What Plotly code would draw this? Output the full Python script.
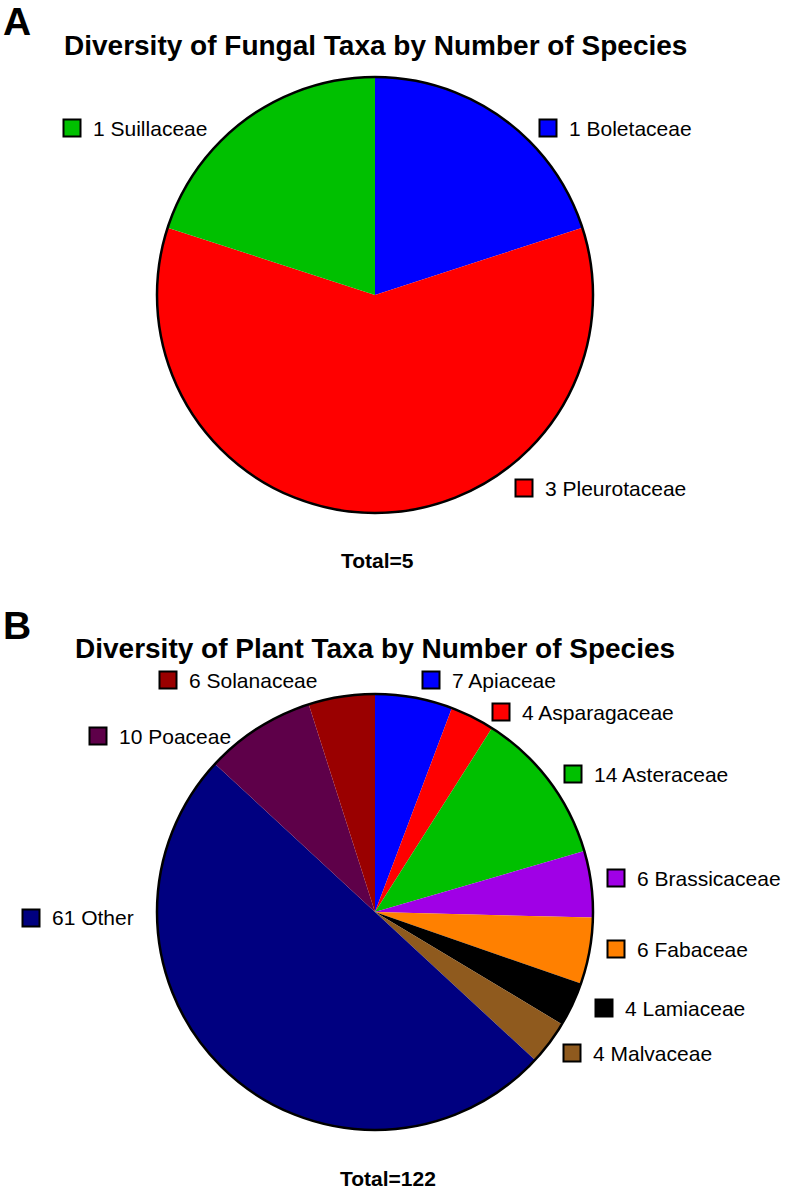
import plotly.graph_objects as go

W, H = 787, 1189

# ---- Data ----
fungi_labels = ["Boletaceae", "Pleurotaceae", "Suillaceae"]
fungi_values = [1, 3, 1]
fungi_colors = ["#0000ff", "#ff0000", "#00c000"]

plant_labels = ["Apiaceae", "Asparagaceae", "Asteraceae", "Brassicaceae", "Fabaceae",
                "Lamiaceae", "Malvaceae", "Other", "Poaceae", "Solanaceae"]
plant_values = [7, 4, 14, 6, 6, 4, 4, 61, 10, 6]
plant_colors = ["#0000ff", "#ff0000", "#00c000", "#a000e6", "#ff8000",
                "#000000", "#8f5a1e", "#000080", "#5e0049", "#9a0000"]

# label anchor positions (pixels: square centre x, y)
fungi_label_pos = [(548, 128), (524, 488), (72, 128)]
plant_label_pos = [(431, 680), (501, 712), (573, 774), (616, 878), (616, 949),
                   (604, 1008), (572, 1053), (31, 918), (98, 736), (168, 680)]

FONT = "Liberation Sans, Arial, sans-serif"


def px(x):
    return x / W


def py(y):
    return 1 - y / H


# pie geometry (pixels)
pies = [
    dict(cx=375, cy=295, r=218),
    dict(cx=375, cy=912, r=218),
]

fig = go.Figure()
for p, labels, values, colors in [(pies[0], fungi_labels, fungi_values, fungi_colors),
                                  (pies[1], plant_labels, plant_values, plant_colors)]:
    fig.add_trace(go.Pie(
        labels=labels, values=values, sort=False, direction="clockwise", rotation=0,
        marker=dict(colors=colors, line=dict(width=0)),
        textinfo="none", showlegend=False,
        domain=dict(x=[px(p["cx"] - p["r"]), px(p["cx"] + p["r"])],
                    y=[py(p["cy"] + p["r"]), py(p["cy"] - p["r"])]),
    ))

shapes = []
annotations = []
# outer black circle for each pie
for p in pies:
    shapes.append(dict(type="circle", xref="paper", yref="paper",
                       x0=px(p["cx"] - p["r"]), x1=px(p["cx"] + p["r"]),
                       y0=py(p["cy"] + p["r"]), y1=py(p["cy"] - p["r"]),
                       line=dict(color="black", width=2.5), fillcolor="rgba(0,0,0,0)"))

S = 8.5
for labels, values, colors, pos in [(fungi_labels, fungi_values, fungi_colors, fungi_label_pos),
                                    (plant_labels, plant_values, plant_colors, plant_label_pos)]:
    for lab, val, col, (sx, sy) in zip(labels, values, colors, pos):
        shapes.append(dict(type="rect", xref="paper", yref="paper",
                           x0=px(sx - S), x1=px(sx + S), y0=py(sy + S), y1=py(sy - S),
                           line=dict(color="black", width=2), fillcolor=col))
        annotations.append(dict(xref="paper", yref="paper", x=px(sx + 19), y=py(sy),
                                xanchor="left", yanchor="middle", showarrow=False,
                                text=f"{val} {lab}",
                                font=dict(family=FONT, size=21, color="black")))

# titles, panel letters, totals
annotations += [
    dict(x=px(375), y=py(45), text="<b>Diversity of Fungal Taxa by Number of Species</b>",
         font=dict(family=FONT, size=28, color="black")),
    dict(x=px(375), y=py(648), text="<b>Diversity of Plant Taxa by Number of Species</b>",
         font=dict(family=FONT, size=28, color="black")),
    dict(x=px(1), y=py(21), text="<b>A</b>", xanchor="left",
         font=dict(family=FONT, size=39, color="black")),
    dict(x=px(1), y=py(625), text="<b>B</b>", xanchor="left",
         font=dict(family=FONT, size=39, color="black")),
    dict(x=px(377), y=py(560), text="<b>Total=5</b>",
         font=dict(family=FONT, size=21, color="black")),
    dict(x=px(388), y=py(1178), text="<b>Total=122</b>",
         font=dict(family=FONT, size=21, color="black")),
]
for a in annotations[-6:]:
    a.update(xref="paper", yref="paper", showarrow=False, yanchor="middle")
    a.setdefault("xanchor", "center")

fig.update_layout(
    width=W, height=H, margin=dict(l=0, r=0, t=0, b=0),
    paper_bgcolor="white", plot_bgcolor="white",
    shapes=shapes, annotations=annotations,
)

fig.write_html("out.html", config={"displayModeBar": False},
               post_script="document.body.style.margin='0';document.body.style.overflow='hidden';")
